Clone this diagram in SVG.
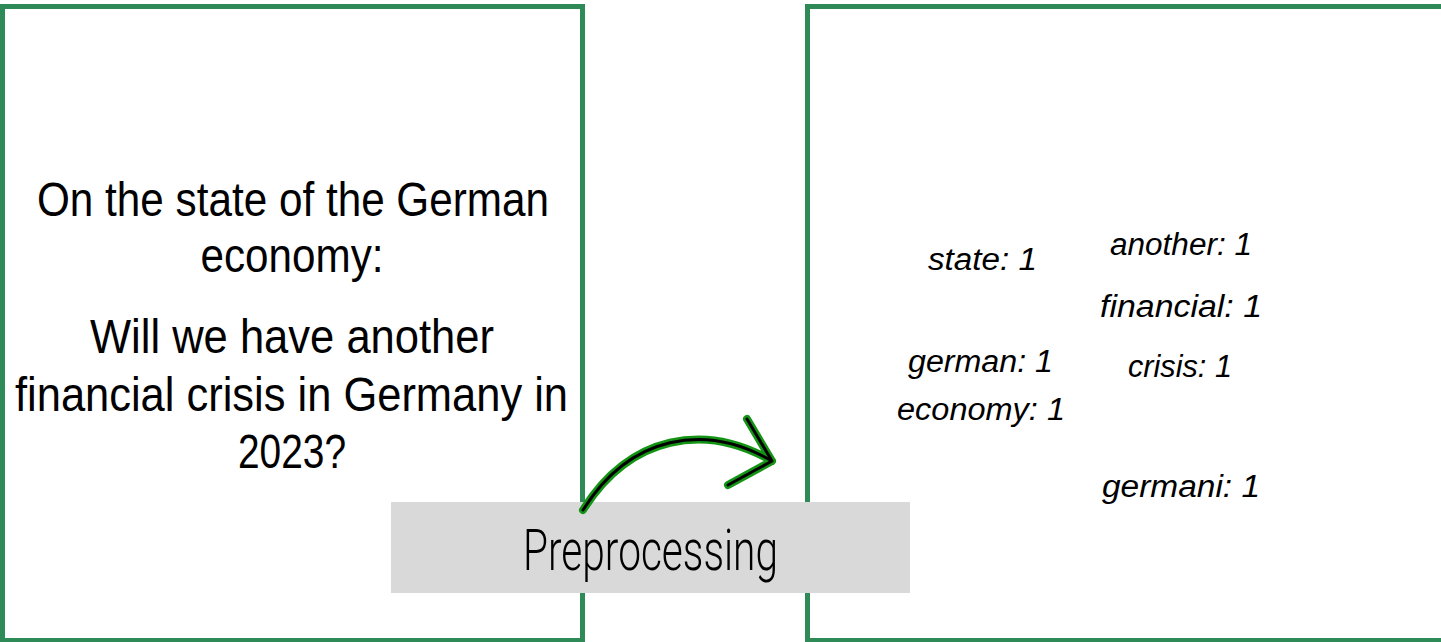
<svg xmlns="http://www.w3.org/2000/svg" width="1441" height="642" viewBox="0 0 1441 642">
  <style>
    .box { fill: #ffffff; stroke: #2e8b57; stroke-width: 5; }
    .q { font-family: "Liberation Sans Narrow", "Liberation Sans", Arial, sans-serif; font-size: 48px; fill: #000; text-anchor: middle; }
    .tok { font-family: "Liberation Sans Narrow", "Liberation Sans", Arial, sans-serif; font-style: italic; font-size: 31px; fill: #000; }
    .lbl { font-family: Roboto, "Liberation Sans", sans-serif; font-weight: 300; font-size: 58px; fill: #000; }
  </style>
  <rect x="0" y="0" width="1441" height="642" fill="#ffffff"/>
  <g id="node-question">
    <rect class="box" x="2.5" y="6.5" width="580" height="634"/>
    <text class="q" x="293" y="216" textLength="512" lengthAdjust="spacingAndGlyphs">On the state of the German</text>
    <text class="q" x="292" y="272" textLength="183" lengthAdjust="spacingAndGlyphs">economy:</text>
    <text class="q" x="292" y="353" textLength="404" lengthAdjust="spacingAndGlyphs">Will we have another</text>
    <text class="q" x="291.5" y="411" textLength="553" lengthAdjust="spacingAndGlyphs">financial crisis in Germany in</text>
    <text class="q" x="292" y="468" textLength="108" lengthAdjust="spacingAndGlyphs">2023?</text>
  </g>
  <g id="node-tokens">
    <rect class="box" x="807.5" y="6.5" width="640" height="634"/>
    <text class="tok" x="928" y="270" textLength="109" lengthAdjust="spacingAndGlyphs">state: 1</text>
    <text class="tok" x="1110" y="255" textLength="142" lengthAdjust="spacingAndGlyphs">another: 1</text>
    <text class="tok" x="1100" y="317" textLength="162" lengthAdjust="spacingAndGlyphs">financial: 1</text>
    <text class="tok" x="908" y="372" textLength="145" lengthAdjust="spacingAndGlyphs">german: 1</text>
    <text class="tok" x="1128" y="377" textLength="104" lengthAdjust="spacingAndGlyphs">crisis: 1</text>
    <text class="tok" x="897" y="420" textLength="168" lengthAdjust="spacingAndGlyphs">economy: 1</text>
    <text class="tok" x="1102" y="497" textLength="158" lengthAdjust="spacingAndGlyphs">germani: 1</text>
  </g>
  <g id="node-preprocessing">
    <rect x="391" y="502" width="519" height="91" fill="#d9d9d9"/>
    <text class="lbl" x="523" y="570" textLength="255" lengthAdjust="spacingAndGlyphs">Preprocessing</text>
  </g>
  <g id="connectors">
    <g fill="none" stroke-linecap="round" stroke-linejoin="round">
      <path d="M583,510 C630,435 705,422 772,461 M747,419 L772,461 L728,485" stroke="#149414" stroke-width="8"/>
      <path d="M583,510 C630,435 705,422 772,461 M747,419 L772,461 L728,485" stroke="#000000" stroke-width="3"/>
    </g>
  </g>
</svg>
